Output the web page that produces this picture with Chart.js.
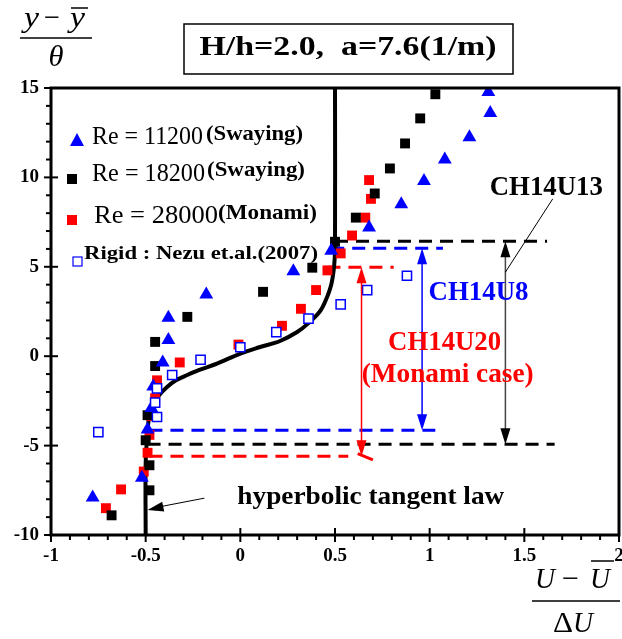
<!DOCTYPE html>
<html><head><meta charset="utf-8">
<script src="https://cdn.jsdelivr.net/npm/chart.js@4.4.0/dist/chart.umd.min.js"></script>
<style>html,body{margin:0;padding:0;background:#fff;}#wrap{width:622px;height:639px;position:relative}canvas{display:block}</style>
</head><body><div id="wrap"><canvas id="c" width="622" height="639"></canvas></div>
<script>
// ---- axis ticks ----
const xTickValues = [-1, -0.5, 0, 0.5, 1, 1.5, 2];
const yTickValues = [-10, -5, 0, 5, 10, 15];

// ---- Re = 11200 (Swaying), blue triangles ----
const re11200X = [1.31, 1.32, 1.21, 1.08, 0.97, 0.85, 0.68, 0.48, 0.28, -0.18, -0.38, -0.38, -0.41, -0.46, -0.47, -0.49, -0.52, -0.78];
const re11200Y = [14.77, 13.6, 12.25, 11.0, 9.8, 8.5, 7.2, 5.9, 4.75, 3.45, 2.15, 0.9, -0.35, -1.7, -2.9, -4.1, -6.8, -7.9];

// ---- Re = 18200 (Swaying), black squares ----
const re18200X = [1.03, 0.95, 0.87, 0.79, 0.71, 0.61, 0.50, 0.38, 0.12, -0.28, -0.45, -0.45, -0.49, -0.50, -0.48, -0.48, -0.68];
const re18200Y = [14.65, 13.3, 11.9, 10.5, 9.1, 7.75, 6.4, 4.95, 3.6, 2.2, 0.8, -0.55, -3.3, -4.7, -6.1, -7.5, -8.9];

// ---- Re = 28000 (Monami), red squares ----
const re28000X = [0.68, 0.69, 0.66, 0.59, 0.53, 0.46, 0.40, 0.32, 0.22, -0.01, -0.32, -0.44, -0.45, -0.47, -0.48, -0.49, -0.51, -0.63, -0.71];
const re28000Y = [9.85, 8.8, 7.75, 6.75, 5.75, 4.8, 3.7, 2.65, 1.7, 0.65, -0.35, -1.35, -2.35, -3.35, -4.4, -5.4, -6.45, -7.45, -8.5];

// ---- Rigid : Nezu et.al.(2007), open blue squares ----
const rigidX = [0.88, 0.67, 0.53, 0.36, 0.19, 0.0, -0.21, -0.36, -0.44, -0.45, -0.44, -0.75];
const rigidY = [4.5, 3.7, 2.9, 2.1, 1.35, 0.5, -0.2, -1.05, -1.8, -2.6, -3.4, -4.25];

// ---- hyperbolic tangent law ----
const tanhX = [-0.5, -0.5, -0.49, -0.48, -0.46, -0.43, -0.39, -0.34, -0.28, -0.22, -0.12, 0.0, 0.1, 0.21, 0.3, 0.36, 0.42, 0.45, 0.48, 0.495, 0.5, 0.5];
const tanhY = [-10, -6, -4.2, -3.3, -2.7, -2.2, -1.75, -1.35, -1.05, -0.78, -0.4, 0.15, 0.5, 0.85, 1.35, 1.85, 2.5, 3.1, 4.0, 5.0, 6.0, 15];

// ---- mixing-layer bands (dashed lines) ----
const bandCH14U13Y = [6.43, -4.92];
const bandCH14U13TopX = [0.5, 1.62];
const bandCH14U13BotX = [-0.49, 1.66];
const bandCH14U8Y = [6.04, -4.14];
const bandCH14U8TopX = [0.48, 1.07];
const bandCH14U8BotX = [-0.48, 1.03];
const bandCH14U20Y = [4.98, -5.6];
const bandCH14U20TopX = [0.46, 0.81];
const bandCH14U20BotX = [-0.48, 0.57];
const arrowX = {ch13: 1.40, ch8: 0.96, ch20: 0.64};

const pts = (xs, ys) => xs.map((x, i) => ({x: x, y: ys[i]}));
const BLUE = '#0000ff', RED = '#ff0000', BLACK = '#000000';
const SERIF = '"Liberation Serif", "Times New Roman", serif';

function dashLine(xs, y, color) {
  return {type: 'line', data: pts(xs, [y, y]), borderColor: color, borderWidth: 3, borderDash: [13, 8],
    pointRadius: 0, fill: false, order: 5};
}

const datasets = [
  {label: 'Re=11200', data: pts(re11200X, re11200Y), pointStyle: 'triangle', pointRadius: 8,
   backgroundColor: BLUE, borderColor: BLUE, borderWidth: 0, showLine: false, order: 1},
  {label: 'Re=18200', data: pts(re18200X, re18200Y), pointStyle: 'rect', pointRadius: 7,
   backgroundColor: BLACK, borderColor: BLACK, borderWidth: 0, showLine: false, order: 1},
  {label: 'Re=28000', data: pts(re28000X, re28000Y), pointStyle: 'rect', pointRadius: 7,
   backgroundColor: RED, borderColor: RED, borderWidth: 0, showLine: false, order: 1},
  {label: 'Rigid', data: pts(rigidX, rigidY), pointStyle: 'rect', pointRadius: 6.5,
   backgroundColor: '#ffffff', borderColor: BLUE, borderWidth: 1.5, showLine: false, order: 0},
  {label: 'tanh', type: 'line', data: pts(tanhX, tanhY), borderColor: BLACK, borderWidth: 4, tension: 0.35,
   pointRadius: 0, fill: false, order: 3},
  dashLine(bandCH14U13TopX, bandCH14U13Y[0], BLACK),
  dashLine(bandCH14U13BotX, bandCH14U13Y[1], BLACK),
  dashLine(bandCH14U8TopX, bandCH14U8Y[0], BLUE),
  dashLine(bandCH14U8BotX, bandCH14U8Y[1], BLUE),
  dashLine(bandCH14U20TopX, bandCH14U20Y[0], RED),
  dashLine(bandCH14U20BotX, bandCH14U20Y[1], RED)
];

function fitText(ctx, text, x, y, w, font, color, align) {
  ctx.save();
  ctx.font = font;
  ctx.fillStyle = color;
  ctx.textBaseline = 'middle';
  ctx.textAlign = 'left';
  const m = ctx.measureText(text).width;
  const sx = w / m;
  const left = align === 'center' ? x - w / 2 : x;
  ctx.translate(left, y);
  ctx.scale(sx, 1);
  ctx.fillText(text, 0, 0);
  ctx.restore();
}

function arrowHead(ctx, x, y, dir, color, w, l) {
  ctx.beginPath();
  ctx.moveTo(x, y);
  ctx.lineTo(x - w / 2, y - dir * l);
  ctx.lineTo(x + w / 2, y - dir * l);
  ctx.closePath();
  ctx.fillStyle = color;
  ctx.fill();
}

function vArrow(ctx, xs, ys, x, y1, y2, lineColor, headColor) {
  const px = xs.getPixelForValue(x);
  const p1 = ys.getPixelForValue(y1), p2 = ys.getPixelForValue(y2);
  ctx.save();
  ctx.strokeStyle = lineColor; ctx.lineWidth = 1.5;
  ctx.beginPath(); ctx.moveTo(px, p1 + 10); ctx.lineTo(px, p2 - 10); ctx.stroke();
  arrowHead(ctx, px, p1, -1, headColor, 10, 16);
  arrowHead(ctx, px, p2, 1, headColor, 10, 16);
  ctx.restore();
}

const deco = {
  id: 'deco',
  afterDatasetsDraw(chart) {
    const ctx = chart.ctx, xs = chart.scales.x, ys = chart.scales.y;
    const X = v => xs.getPixelForValue(v), Y = v => ys.getPixelForValue(v);
    vArrow(ctx, xs, ys, arrowX.ch13, bandCH14U13Y[0], bandCH14U13Y[1], '#444444', BLACK);
    vArrow(ctx, xs, ys, arrowX.ch8, bandCH14U8Y[0], bandCH14U8Y[1], BLUE, BLUE);
    vArrow(ctx, xs, ys, arrowX.ch20, bandCH14U20Y[0], bandCH14U20Y[1], RED, RED);
    ctx.save();
    ctx.strokeStyle = RED; ctx.lineWidth = 3;
    ctx.beginPath(); ctx.moveTo(X(0.62), Y(-5.45)); ctx.lineTo(X(0.70), Y(-5.8)); ctx.stroke();
    ctx.strokeStyle = BLACK; ctx.lineWidth = 1;
    ctx.beginPath(); ctx.moveTo(X(1.65), Y(8.8)); ctx.lineTo(X(1.40), Y(4.7)); ctx.stroke();
    ctx.beginPath(); ctx.moveTo(X(-0.19), Y(-7.94)); ctx.lineTo(X(-0.44), Y(-8.45)); ctx.stroke();
    const tx = X(-0.49), ty = Y(-8.6);
    const ang = Math.atan2(Y(-7.94) - ty, X(-0.19) - tx);
    ctx.save(); ctx.translate(tx, ty); ctx.rotate(ang);
    ctx.beginPath(); ctx.moveTo(0, 0); ctx.lineTo(16, -5); ctx.lineTo(16, 5); ctx.closePath();
    ctx.fillStyle = BLACK; ctx.fill(); ctx.restore();
    ctx.restore();
    const B = 'bold 27px ' + SERIF;
    fitText(ctx, 'CH14U13', X(1.616), Y(9.4), 113, B, BLACK, 'center');
    fitText(ctx, 'CH14U8', X(1.258), Y(3.52), 100, B, BLUE, 'center');
    fitText(ctx, 'CH14U20', X(1.079), Y(0.73), 113, B, RED, 'center');
    fitText(ctx, '(Monami case)', X(1.095), Y(-1.06), 172, B, RED, 'center');
    fitText(ctx, 'hyperbolic tangent law', X(-0.016), Y(-7.89), 267, 'bold 26px ' + SERIF, BLACK, 'left');
  },
  afterDraw(chart) {
    const ctx = chart.ctx, xs = chart.scales.x, ys = chart.scales.y;
    const a = chart.chartArea;
    ctx.save();
    ctx.strokeStyle = BLACK; ctx.lineWidth = 3;
    ctx.strokeRect(a.left, a.top, a.right - a.left, a.bottom - a.top);
    ctx.lineWidth = 2;
    for (let i = 0; i <= 30; i++) {
      const v = -1 + i * 0.1;
      const px = xs.getPixelForValue(v);
      const major = i % 5 === 0;
      ctx.beginPath();
      ctx.moveTo(px, major ? a.bottom - 7 : a.bottom);
      ctx.lineTo(px, a.bottom + (major ? 7 : 5));
      ctx.stroke();
    }
    for (let i = 0; i <= 25; i++) {
      const v = -10 + i;
      const py = ys.getPixelForValue(v);
      const major = i % 5 === 0;
      ctx.beginPath();
      ctx.moveTo(a.left - (major ? 7 : 5), py);
      ctx.lineTo(major ? a.left + 7 : a.left, py);
      ctx.stroke();
    }
    ctx.lineWidth = 1.5;
    ctx.strokeRect(184, 24, 329, 50);
    fitText(ctx, 'H/h=2.0,  a=7.6(1/m)', 348, 48, 297, 'bold 27px ' + SERIF, BLACK, 'center');
    const IT = 'italic 30px ' + SERIF;
    fitText(ctx, 'y', 24, 19, 15, IT, BLACK, 'left');
    fitText(ctx, '\u2212', 44, 19, 16, '30px ' + SERIF, BLACK, 'left');
    fitText(ctx, 'y', 70, 19, 15, IT, BLACK, 'left');
    ctx.lineWidth = 1.5;
    ctx.beginPath(); ctx.moveTo(71, 8); ctx.lineTo(88, 8); ctx.stroke();
    ctx.beginPath(); ctx.moveTo(20, 38); ctx.lineTo(92, 38); ctx.stroke();
    fitText(ctx, '\u03b8', 56, 58, 15, IT, BLACK, 'center');
    fitText(ctx, 'U', 535, 580, 20, IT, BLACK, 'left');
    fitText(ctx, '\u2212', 562, 580, 17, '30px ' + SERIF, BLACK, 'left');
    fitText(ctx, 'U', 590, 580, 20, IT, BLACK, 'left');
    ctx.beginPath(); ctx.moveTo(591, 561); ctx.lineTo(614, 561); ctx.stroke();
    ctx.beginPath(); ctx.moveTo(532, 601); ctx.lineTo(620, 601); ctx.stroke();
    fitText(ctx, '\u0394', 553, 624, 20, '30px ' + SERIF, BLACK, 'left');
    fitText(ctx, 'U', 573, 624, 20, IT, BLACK, 'left');
    ctx.fillStyle = BLUE;
    ctx.beginPath(); ctx.moveTo(77, 133); ctx.lineTo(70, 146); ctx.lineTo(84, 146); ctx.closePath(); ctx.fill();
    ctx.fillStyle = BLACK; ctx.fillRect(67, 174, 10, 10);
    ctx.fillStyle = RED; ctx.fillRect(67, 215, 10, 10);
    ctx.strokeStyle = BLUE; ctx.lineWidth = 1.2; ctx.strokeRect(73, 257, 9, 9);
    const RN = '25px ' + SERIF, SB = 'bold 21px ' + SERIF;
    fitText(ctx, 'Re = 11200', 92, 137, 111, RN, BLACK, 'left');
    fitText(ctx, '(Swaying)', 206, 135, 97, SB, BLACK, 'left');
    fitText(ctx, 'Re = 18200', 92, 174, 113, RN, BLACK, 'left');
    fitText(ctx, '(Swaying)', 207, 171, 98, SB, BLACK, 'left');
    fitText(ctx, 'Re = 28000', 94, 216, 124, RN, BLACK, 'left');
    fitText(ctx, '(Monami)', 218, 214, 99, SB, BLACK, 'left');
    fitText(ctx, 'Rigid : Nezu et.al.(2007)', 84, 254, 234, 'bold 19px ' + SERIF, BLACK, 'left');
    ctx.restore();
  }
};

new Chart(document.getElementById('c'), {
  type: 'scatter',
  data: {datasets: datasets},
  options: {
    responsive: false, animation: false, devicePixelRatio: 1,
    layout: {autoPadding: false, padding: {top: 88, right: 3, left: 0, bottom: 0}},
    plugins: {legend: {display: false}, tooltip: {enabled: false}},
    scales: {
      x: {type: 'linear', min: -1, max: 2,
        afterBuildTicks: s => { s.ticks = xTickValues.map(v => ({value: v})); },
        afterFit: s => { s.height = 104; s.paddingLeft = 0; s.paddingRight = 0; },
        grid: {display: false, drawTicks: false},
        border: {display: false},
        ticks: {color: BLACK, padding: 10, maxRotation: 0, autoSkip: false,
          font: {family: SERIF, weight: 'bold', size: 19}, callback: v => String(v)}},
      y: {type: 'linear', min: -10, max: 15,
        afterBuildTicks: s => { s.ticks = yTickValues.map(v => ({value: v})); },
        afterFit: s => { s.width = 51; s.paddingTop = 0; s.paddingBottom = 0; },
        grid: {display: false, drawTicks: false},
        border: {display: false},
        ticks: {color: BLACK, padding: 12, autoSkip: false,
          font: {family: SERIF, weight: 'bold', size: 19}, callback: v => String(v)}}
    }
  },
  plugins: [deco]
});
</script></body></html>
